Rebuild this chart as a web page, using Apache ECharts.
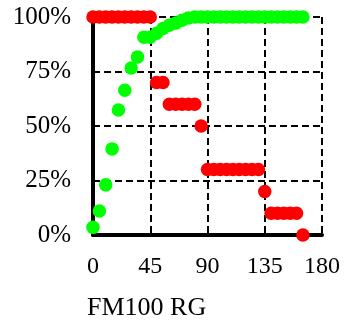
<!DOCTYPE html>
<html><head><meta charset="utf-8">
<script src="https://cdn.jsdelivr.net/npm/echarts@6/dist/echarts.min.js"></script>
<style>html,body{margin:0;padding:0;background:#fff}#c{width:344px;height:320px}</style>
</head><body><div id="c"></div>
<script>
var xValues = [0,5,10,15,20,25,30,35,40,45,50,55,60,65,70,75,80,85,90,95,100,105,110,115,120,125,130,135,140,145,150,155,160,165];
var redValues = [1,1,1,1,1,1,1,1,1,1,0.70,0.70,0.60,0.60,0.60,0.60,0.60,0.50,0.30,0.30,0.30,0.30,0.30,0.30,0.30,0.30,0.30,0.20,0.10,0.10,0.10,0.10,0.10,0];
var greenValues = [0.035,0.11,0.23,0.395,0.573,0.664,0.766,0.817,0.907,0.907,0.925,0.947,0.962,0.972,0.985,0.995,1,1,1,1,1,1,1,1,1,1,1,1,1,1,1,1,1,1];
var xTicks = [0,45,90,135,180];
var yTicks = [0,0.25,0.5,0.75,1];
var xName = 'FM100 RG';

var font = 'Liberation Serif';
var chart = echarts.init(document.getElementById('c'), null, {renderer:'canvas'});
function pairs(ys){ return xValues.map(function(x,i){ return [x, ys[i]]; }); }
var dashed = {show:true, lineStyle:{color:'#000', width:2, type:[7,4]}};
chart.setOption({
  animation:false,
  backgroundColor:'#fff',
  grid:{left:93, right:22, top:17, bottom:85},
  xAxis:{type:'value', min:xTicks[0], max:xTicks[xTicks.length-1], interval:xTicks[1]-xTicks[0],
    axisLine:{show:true, onZero:false, lineStyle:{color:'#000', width:4}},
    axisTick:{show:false},
    axisLabel:{color:'#000', fontFamily:font, fontSize:24, margin:20},
    splitLine:dashed},
  yAxis:[{type:'value', min:yTicks[0], max:yTicks[yTicks.length-1], interval:yTicks[1]-yTicks[0],
    axisLine:{show:true, onZero:false, lineStyle:{color:'#000', width:4}},
    axisTick:{show:false},
    axisLabel:{color:'#000', fontFamily:font, fontSize:25, margin:22, formatter:function(v){return Math.round(v*100)+'%';}},
    splitLine:dashed},
    {type:'value', position:'right', min:0, max:1, interval:0.25,
    axisLine:{show:true, lineStyle:{color:'#000', width:2}},
    axisTick:{show:false}, axisLabel:{show:false}, splitLine:{show:false}}],
  graphic:[{type:'text', left:87, top:295, style:{text:xName, fill:'#000', font:'26px "Liberation Serif"'}}],
  series:[
    {type:'scatter', data:pairs(redValues), symbolSize:13.5, itemStyle:{color:'#ff0000', opacity:1}},
    {type:'scatter', data:pairs(greenValues), symbolSize:13.5, itemStyle:{color:'#00ff00', opacity:1}}
  ]
});
</script></body></html>
